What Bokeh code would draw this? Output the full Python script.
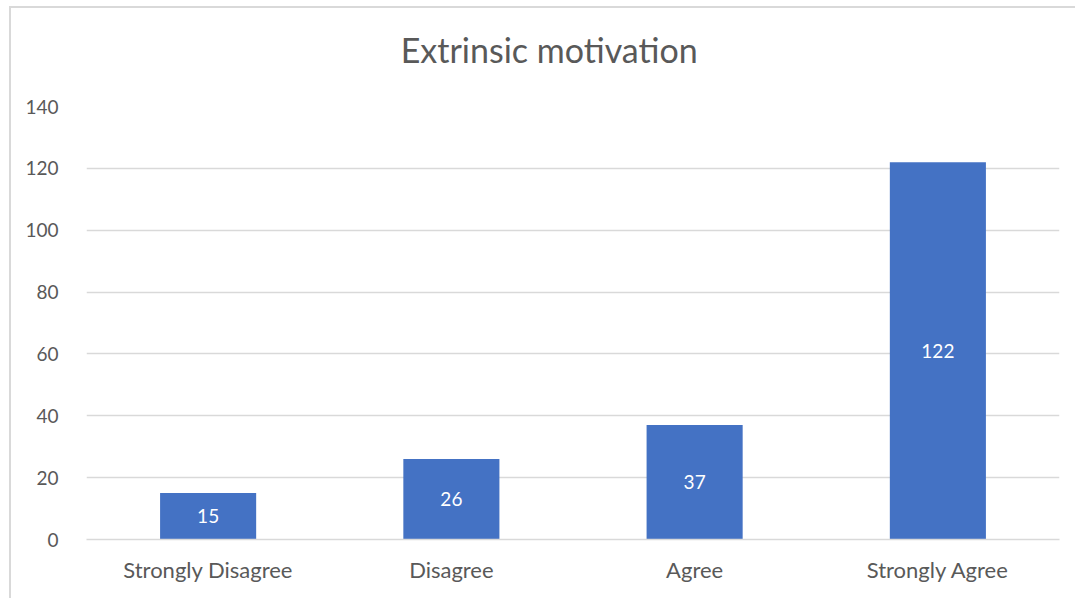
from bokeh.plotting import figure
from bokeh.layouts import column
from bokeh.models import ColumnDataSource, FactorRange, Range1d, SingleIntervalTicker
from bokeh.core.properties import value
from bokeh.embed import file_html
from bokeh.resources import INLINE

# Survey responses: extrinsic motivation
categories = ["Strongly Disagree", "Disagree", "Agree", "Strongly Agree"]
counts = [15, 26, 37, 122]
y_ticks = [0, 20, 40, 60, 80, 100, 120, 140]
chart_title = "Extrinsic motivation"

FONT = "Lato"
TEXT_GREY = "#595959"
GRID_GREY = "#d9d9d9"
BAR_BLUE = "#4472C4"

WIDTH = 1064
TITLE_H = 88
MAIN_H = 502

# --- title strip -----------------------------------------------------------
head = figure(
    width=WIDTH, height=TITLE_H,
    x_range=Range1d(0, WIDTH), y_range=Range1d(0, TITLE_H),
    x_axis_type=None, y_axis_type=None,
    output_backend="svg", toolbar_location=None,
    min_border=0,
)
head.grid.visible = False
head.outline_line_color = None
head.background_fill_color = "white"
head.border_fill_color = "white"
head.text(x=[506], y=[47], text=[chart_title],
          text_color=TEXT_GREY, text_font=value(FONT), text_font_size="34px",
          text_align="center", text_baseline="alphabetic")

# --- bar chart ---------------------------------------------------------------
source = ColumnDataSource(data=dict(
    cat=categories,
    count=counts,
    mid=[c / 2 for c in counts],
    label=[str(c) for c in counts],
))

p = figure(
    x_range=FactorRange(*categories),
    y_range=Range1d(y_ticks[0], y_ticks[-1]),
    width=WIDTH, height=MAIN_H,
    output_backend="svg",
    toolbar_location=None,
    min_border_left=75, min_border_right=16,
    min_border_top=10, min_border_bottom=59,
)

p.vbar(x="cat", top="count", width=0.395, source=source,
       fill_color=BAR_BLUE, line_color=None)

p.text(x="cat", y="mid", text="label", source=source,
       text_color="white", text_font=value(FONT), text_font_size="19px",
       text_align="center", text_baseline="middle")

p.outline_line_color = None
p.xgrid.grid_line_color = None
p.ygrid.grid_line_color = GRID_GREY
p.ygrid.grid_line_width = 1.5

p.yaxis.ticker = SingleIntervalTicker(interval=20)
p.yaxis.axis_line_color = None
p.yaxis.major_tick_line_color = None
p.yaxis.minor_tick_line_color = None
p.yaxis.major_label_standoff = 22
p.yaxis.major_label_text_font = FONT
p.yaxis.major_label_text_font_size = "19px"
p.yaxis.major_label_text_color = TEXT_GREY

p.xaxis.axis_line_color = GRID_GREY
p.xaxis.axis_line_width = 1.5
p.xaxis.major_tick_line_color = None
p.xaxis.minor_tick_line_color = None
p.xaxis.major_label_standoff = 10
p.xaxis.major_label_text_font = FONT
p.xaxis.major_label_text_font_size = "22px"
p.xaxis.major_label_text_color = TEXT_GREY

p.background_fill_color = "white"
p.border_fill_color = "white"

chart = column(
    head, p, spacing=0,
    styles={
        "margin-left": "9px", "margin-top": "6px",
        "border-left": "2px solid #d9d9d9", "border-top": "2px solid #d9d9d9",
        "background-color": "white",
    },
)

open("out.html", "w").write(file_html(chart, INLINE))
